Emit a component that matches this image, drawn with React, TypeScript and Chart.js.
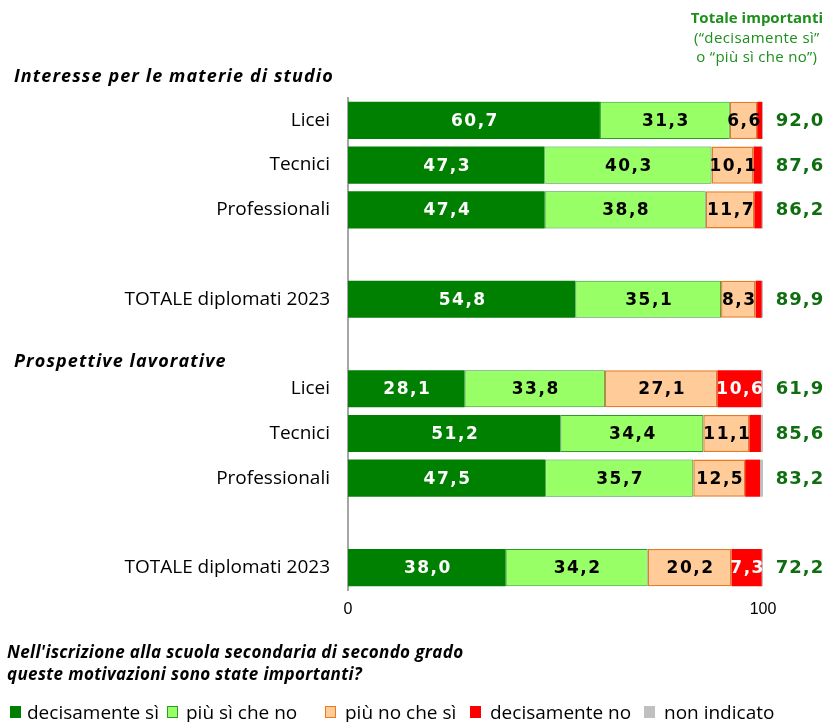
import React, { useEffect, useRef } from "react";
import { Chart, registerables } from "chart.js";
Chart.register(...registerables);

const categories = ["Licei", "Tecnici", "Professionali", "", "TOTALE diplomati 2023", "", "Licei", "Tecnici", "Professionali", "", "TOTALE diplomati 2023"];
const decisamenteSi = [60.7, 47.3, 47.4, null, 54.8, null, 28.1, 51.2, 47.5, null, 38.0];
const piuSiCheNo = [31.3, 40.3, 38.8, null, 35.1, null, 33.8, 34.4, 35.7, null, 34.2];
const piuNoCheSi = [6.6, 10.1, 11.7, null, 8.3, null, 27.1, 11.1, 12.5, null, 20.2];
const decisamenteNo = [1.2, 2.0, 1.8, null, 1.5, null, 10.6, 2.8, 3.6, null, 7.3];
const nonIndicato = [0.2, 0.3, 0.3, null, 0.3, null, 0.4, 0.5, 0.7, null, 0.3];
const totaleImportanti = [92.0, 87.6, 86.2, null, 89.9, null, 61.9, 85.6, 83.2, null, 72.2];
const seriesNames = ["decisamente sì", "più sì che no", "più no che sì", "decisamente no", "non indicato"];
const sectionTitles = ["Interesse per le materie di studio", "Prospettive lavorative"];
const xTickValues = [0, 100];

const fills = ["#008000", "#99ff66", "#ffcc99", "#ff0000", "#c0c0c0"];
const borders = ["#008000", "#2e9a2e", "#e87a22", "#ff0000", "#c0c0c0"];
const borderWidths = [0, 1, 1.5, 0, 0];
const labelColors = ["#ffffff", "#000000", "#000000", "#ffffff", "#000000"];
const totalColor = "#0f6e0f";

const fmt = (v: number) => v.toFixed(1).replace(".", ",");

const labelsPlugin = {
  id: "customLabels",
  afterDatasetsDraw(chart: any) {
    const ctx = chart.ctx;
    ctx.save();
    ctx.textAlign = "center";
    ctx.textBaseline = "middle";
    chart.data.datasets.forEach((ds: any, di: number) => {
      const meta = chart.getDatasetMeta(di);
      meta.data.forEach((el: any, i: number) => {
        const v = ds.data[i];
        if (v == null || v < 5) return;
        const p = el.getProps(["x", "base", "y"], true);
        ctx.font = 'bold 17px "DejaVu Sans"';
        (ctx as any).letterSpacing = "1.5px";
        ctx.fillStyle = labelColors[di];
        ctx.fillText(fmt(v), (p.x + p.base) / 2 + 1, p.y + 1);
      });
    });
    const ys = chart.scales.y;
    ctx.font = 'bold 18px "DejaVu Sans"';
    (ctx as any).letterSpacing = "1px";
    ctx.fillStyle = totalColor;
    totaleImportanti.forEach((t, i) => {
      if (t == null) return;
      ctx.fillText(fmt(t), chart.chartArea.right + 37, ys.getPixelForValue(i) + 1);
    });
    ctx.textAlign = "left";
    ctx.fillStyle = "#000000";
    ctx.font = 'italic bold 18px "Open Sans"';
    (ctx as any).letterSpacing = "1.1px";
    ctx.fillText(sectionTitles[0], 14, ys.getPixelForValue(0) - 43);
    ctx.fillText(sectionTitles[1], 14, ys.getPixelForValue(6) - 27);
    ctx.restore();
  },
};

function ChartCanvas() {
  const ref = useRef<HTMLCanvasElement>(null);
  useEffect(() => {
    if (!ref.current) return;
    const seriesData = [decisamenteSi, piuSiCheNo, piuNoCheSi, decisamenteNo, nonIndicato];
    const chart = new Chart(ref.current, {
      type: "bar",
      data: {
        labels: categories,
        datasets: seriesData.map((d, i) => ({
          label: seriesNames[i],
          data: d,
          backgroundColor: fills[i],
          borderColor: borders[i],
          borderWidth: borderWidths[i],
          borderSkipped: false,
          barPercentage: 0.83,
          categoryPercentage: 1,
        })),
      },
      options: {
        indexAxis: "y",
        responsive: false,
        animation: false,
        layout: { padding: { top: 98, right: 64, bottom: 102, left: 0 } },
        plugins: { legend: { display: false }, tooltip: { enabled: false } },
        scales: {
          x: {
            stacked: true,
            min: 0,
            max: 100,
            afterBuildTicks: (scale: any) => {
              scale.ticks = xTickValues.map((v) => ({ value: v }));
            },
            afterFit: (scale: any) => {
              scale.height = 30;
            },
            grid: { display: false, drawTicks: false },
            border: { display: false },
            ticks: {
              padding: 10,
              color: "#000000",
              font: { family: '"Liberation Sans", Arial', size: 16 },
              maxRotation: 0,
              autoSkip: false,
            },
          },
          y: {
            stacked: true,
            afterFit: (scale: any) => {
              scale.width = 348;
            },
            grid: { display: true, drawOnChartArea: false, drawTicks: false, color: "rgba(0,0,0,0)" },
            border: { display: true, color: "#a6a6a6", width: 2 },
            ticks: {
              padding: 18,
              color: "#000000",
              font: { family: '"Open Sans"', size: 19 },
              autoSkip: false,
            },
          },
        },
      },
      plugins: [labelsPlugin],
    } as any);
    return () => chart.destroy();
  }, []);
  return <canvas ref={ref} width={827} height={722} style={{ position: "absolute", left: 0, top: 0 }} />;
}

const legendItems = [
  { sq: 10, tx: 27 },
  { sq: 167, tx: 186 },
  { sq: 325, tx: 345 },
  { sq: 470, tx: 490 },
  { sq: 644, tx: 664 },
];

export default function App() {
  return (
    <div style={{ position: "absolute", left: 0, top: 0, width: 827, height: 722, background: "#ffffff", overflow: "hidden" }}>
      <ChartCanvas />
      <div
        style={{
          position: "absolute",
          right: 4,
          top: 8,
          textAlign: "center",
          color: "#1d8f1d",
          fontFamily: '"Open Sans"',
          fontSize: 15,
          lineHeight: "19.5px",
        }}
      >
        <div style={{ fontWeight: "bold" }}>Totale importanti</div>
        <div style={{ letterSpacing: "0.4px" }}>(“decisamente sì”</div>
        <div style={{ letterSpacing: "0.3px" }}>o “più sì che no”)</div>
      </div>
      <div
        style={{
          position: "absolute",
          left: 7,
          top: 641,
          fontFamily: '"Open Sans"',
          fontStyle: "italic",
          fontWeight: "bold",
          fontSize: 17,
          letterSpacing: "0.35px",
          lineHeight: "22px",
          color: "#000000",
        }}
      >
        <div>Nell'iscrizione alla scuola secondaria di secondo grado</div>
        <div>queste motivazioni sono state importanti?</div>
      </div>
      {legendItems.map((it, i) => (
        <React.Fragment key={i}>
          <div
            style={{
              position: "absolute",
              left: it.sq,
              top: 706,
              width: 11,
              height: 12,
              boxSizing: "border-box",
              background: fills[i],
              border: borderWidths[i] > 0 ? `1.5px solid ${borders[i]}` : "none",
            }}
          />
          <div
            style={{
              position: "absolute",
              left: it.tx,
              top: 699,
              fontFamily: '"Open Sans"',
              fontSize: 19,
              lineHeight: "26px",
              color: "#000000",
              whiteSpace: "nowrap",
            }}
          >
            {seriesNames[i]}
          </div>
        </React.Fragment>
      ))}
    </div>
  );
}
